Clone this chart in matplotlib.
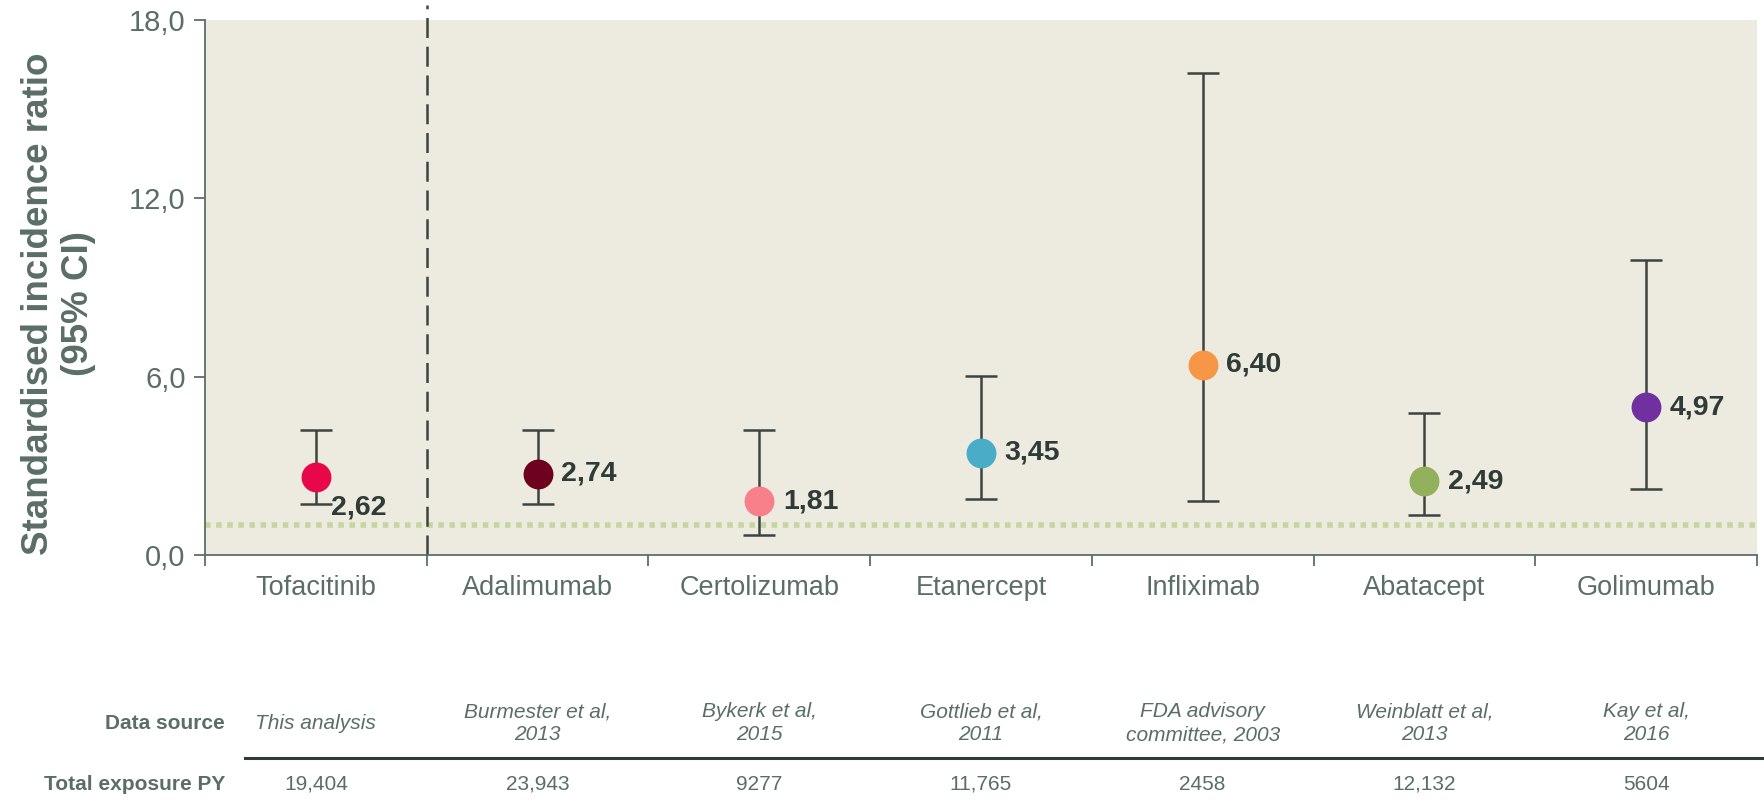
import matplotlib.pyplot as plt
from matplotlib.transforms import blended_transform_factory

plt.rcParams['font.family'] = ['Liberation Sans', 'DejaVu Sans']

drugs = ["Tofacitinib", "Adalimumab", "Certolizumab", "Etanercept",
         "Infliximab", "Abatacept", "Golimumab"]
sir = [2.62, 2.74, 1.81, 3.45, 6.40, 2.49, 4.97]
ci_low = [1.71, 1.71, 0.69, 1.90, 1.82, 1.36, 2.24]
ci_high = [4.21, 4.21, 4.21, 6.02, 16.22, 4.77, 9.93]
sources = ["This analysis", "Burmester et al,\n2013", "Bykerk et al,\n2015",
           "Gottlieb et al,\n2011", "FDA advisory\ncommittee, 2003",
           "Weinblatt et al,\n2013", "Kay et al,\n2016"]
exposure = ["19,404", "23,943", "9277", "11,765", "2458", "12,132", "5604"]
colors = ["#e8084a", "#6e0020", "#f7808a", "#4aacc6", "#f79646", "#93b05c", "#7030a0"]

grey = "#5a6e66"
dark = "#2f3b37"
bar_col = "#3c4440"

fig = plt.figure(figsize=(17.64, 8.01), dpi=100)
ax = fig.add_axes([0.1162, 0.307, 0.8798, 0.668])
ax.set_facecolor("#edebe0")

x = [i + 0.5 for i in range(len(drugs))]
for i in range(len(drugs)):
    ax.errorbar(x[i], sir[i], yerr=[[sir[i] - ci_low[i]], [ci_high[i] - sir[i]]],
                fmt="none", ecolor=bar_col, elinewidth=1.8, capsize=11.5, capthick=1.8, zorder=3)
    ax.plot(x[i], sir[i], "o", color=colors[i], markersize=20.5, zorder=4)
    lab = f"{sir[i]:.2f}".replace(".", ",")
    if i == 0:
        ax.annotate(lab, (x[i], sir[i]), xytext=(11, -22), textcoords="offset points",
                    ha="left", va="center", fontsize=20.5, fontweight="bold", color=dark)
    else:
        ax.annotate(lab, (x[i], sir[i]), xytext=(17, 0), textcoords="offset points",
                    ha="left", va="center", fontsize=20.5, fontweight="bold", color=dark)

# reference line at SIR = 1
ax.axhline(1.0, color="#c3d79f", lw=4.0, linestyle=(0, (1, 1)), zorder=2)
# separator between tofacitinib and the others
ax.plot([1, 1], [0, 18.5], color=bar_col, lw=1.8, linestyle=(0, (8, 3.5)),
        clip_on=False, zorder=2)

ax.set_xlim(0, 7)
ax.set_ylim(0, 18)
ax.set_yticks([0, 6, 12, 18])
ax.set_yticklabels(["0,0", "6,0", "12,0", "18,0"])
ax.set_xticks(range(8))
ax.set_xticklabels([])
ax.set_xticks(x, minor=True)
ax.set_xticklabels(drugs, minor=True)
ax.tick_params(axis="y", length=8, width=1.3, color=grey, labelcolor=grey, labelsize=21, pad=6)
ax.tick_params(axis="x", which="major", length=8, width=1.3, color=grey)
ax.tick_params(axis="x", which="minor", length=0, labelcolor=grey, labelsize=19.5, pad=14)
for s in ["top", "right"]:
    ax.spines[s].set_visible(False)
for s in ["left", "bottom"]:
    ax.spines[s].set_color(grey)
    ax.spines[s].set_linewidth(1.3)

ax.set_ylabel("Standardised incidence ratio\n(95% CI)", fontsize=26.5,
              fontweight="bold", color=grey, linespacing=1.2)
ax.yaxis.set_label_coords(-0.070, 0.47)

# table under the chart
tr = blended_transform_factory(ax.transData, fig.transFigure)
fig.text(0.1276, 0.097, "Data source", ha="right", va="center", fontsize=15,
         fontweight="bold", color=grey)
fig.text(0.1276, 0.021, "Total exposure PY", ha="right", va="center", fontsize=15,
         fontweight="bold", color=grey)
for i in range(len(drugs)):
    ax.text(x[i], 0.097, sources[i], transform=tr, ha="center", va="center",
            fontsize=15, style="italic", color=grey, linespacing=1.25)
    ax.text(x[i], 0.021, exposure[i], transform=tr, ha="center", va="center",
            fontsize=15, color=grey)
fig.add_artist(plt.Line2D([0.139, 1.0], [0.0537, 0.0537], color=dark, lw=2.2,
                          transform=fig.transFigure))

fig.savefig("out.png", dpi=100)
